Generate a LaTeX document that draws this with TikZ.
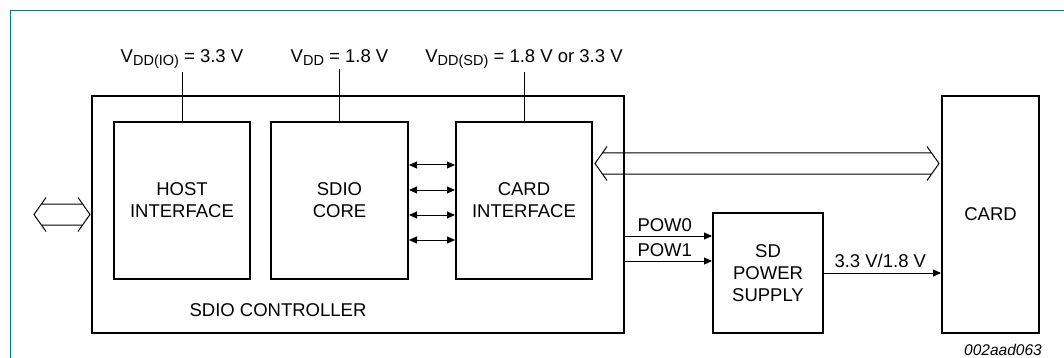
\documentclass[tikz,border=0pt]{standalone}
\usepackage{fontspec}
\setmainfont{Liberation Sans}
\usetikzlibrary{arrows.meta,positioning,calc}
\definecolor{frameteal}{RGB}{0,122,148}
\newcommand{\vsub}[1]{V\raisebox{-0.3ex}{\fontsize{14.5}{14.5}\selectfont #1}}
% hollow double-headed bus between two points on one level
\newcommand{\hollowbus}[2]{%
  \draw[wire] ($(#1)+(12,-17)$) -- (#1) -- ($(#1)+(12,17)$)
              ($(#2)+(-12,-17)$) -- (#2) -- ($(#2)+(-12,17)$)
              ($(#1)+(7.4,-10.5)$) -- ($(#2)+(-7.4,-10.5)$)
              ($(#1)+(7.4,10.5)$) -- ($(#2)+(-7.4,10.5)$);}

\begin{document}
\begin{tikzpicture}[x=1pt, y=-1pt,
    every node/.style={font=\fontsize{18.5}{22}\selectfont, inner sep=0pt},
    block/.style={draw, line width=2pt, align=center},
    supply/.style={outer sep=3pt},
    wire/.style={line width=1pt},
    sig/.style={wire, -{Triangle[length=8pt,width=7pt]}},
    bidir/.style={wire, {Triangle[length=8pt,width=7pt]}-{Triangle[length=8pt,width=7pt]}}]
  \useasboundingbox (0,0) rectangle (1064,358);
  % frame
  \draw[frameteal, line width=1pt] (10.5,358) -- (10.5,10.5) -- (1064,10.5);

  % blocks
  \node[block, minimum width=532, minimum height=237] (ctrl) at (358,214.5) {};
  \node[block, minimum width=136, minimum height=157] (host) at (182,200.5) {HOST\\INTERFACE};
  \node[block, minimum width=137, minimum height=157] (core) at (339.5,200.5) {SDIO\\CORE};
  \node[block, minimum width=136, minimum height=157] (cif) at (524,200.5) {CARD\\INTERFACE};
  \node[block, minimum width=110, minimum height=120] (psu) at (768,273) {SD\\POWER\\SUPPLY};
  \node[block, minimum width=97, minimum height=237] (card) at (990.5,214.5) {CARD};
  \node (ctrllbl) at (278,310) {SDIO CONTROLLER};

  % supplies
  \node[supply, anchor=base] (vio) at (182,63) {\vsub{DD(IO)} = 3.3 V};
  \node[supply, anchor=base] (vdd) at (339.5,63) {\vsub{DD} = 1.8 V};
  \node[supply, anchor=base] (vsd) at (524,63) {\vsub{DD(SD)} = 1.8 V or 3.3 V};
  \draw[wire] (vio.south -| host.north) -- (host.north);
  \draw[wire] (vdd.south -| core.north) -- (core.north);
  \draw[wire] (vsd.south -| cif.north) -- (cif.north);

  % core <-> card interface
  \foreach \y in {165,190,215,240}
    \draw[bidir] (core.east |- 0,\y) -- (cif.west |- 0,\y);

  % buses
  \coordinate (busa) at ($(cif.north east)+(2,42.5)$);
  \coordinate (busb) at (busa -| card.west);
  \hollowbus{busa}{$(busb)+(-2,0)$}
  \coordinate (hostbus) at ($(ctrl.west)+(-57,0)$);
  \hollowbus{hostbus}{$(ctrl.west)+(-1,0)$}

  % power control
  \coordinate (p0) at ($(psu.north west)+(0,24)$);
  \coordinate (p1) at ($(psu.north west)+(0,49)$);
  \draw[sig] (ctrl.east |- p0) -- (p0)
    node[pos=0, anchor=base west, xshift=12pt, yshift=5pt] (pow0) {POW0};
  \draw[sig] (ctrl.east |- p1) -- (p1)
    node[pos=0, anchor=base west, xshift=12pt, yshift=5pt] (pow1) {POW1};
  \draw[sig] (psu.east) -- (psu.east -| card.west)
    node[pos=0, anchor=base west, xshift=10pt, yshift=6pt] (vout) {3.3 V/1.8 V};

  \node[anchor=base east, font=\fontsize{15.5}{18}\selectfont\itshape] (code) at (1042,355) {002aad063};
\end{tikzpicture}
\end{document}
